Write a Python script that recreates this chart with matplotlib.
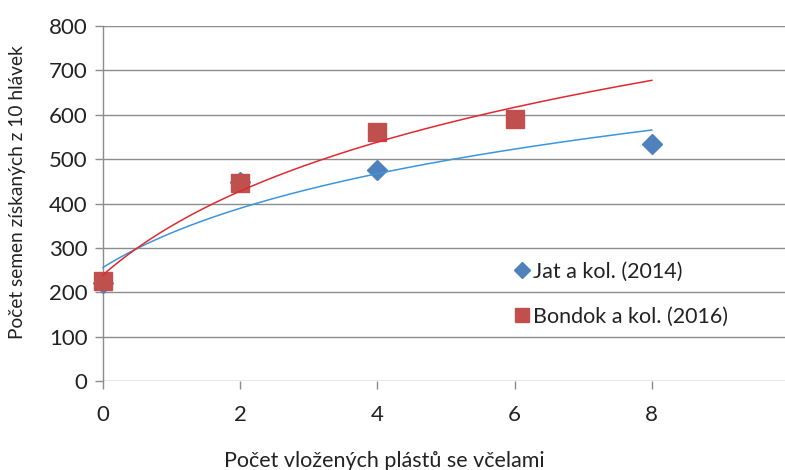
import numpy as np
import matplotlib
matplotlib.use("Agg")
import matplotlib.pyplot as plt
from matplotlib.lines import Line2D

plt.rcParams['font.family'] = ['Lato', 'DejaVu Sans']

# Data
jat_x = [0, 2, 4, 8]
jat_y = [220, 448, 475, 535]
bondok_x = [0, 2, 4, 6]
bondok_y = [225, 447, 560, 590]
x_ticks = [0, 2, 4, 6, 8]
y_ticks = [0, 100, 200, 300, 400, 500, 600, 700, 800]

jat_label = "Jat a kol. (2014)"
bondok_label = "Bondok a kol. (2016)"
x_label = "Počet vložených plástů se včelami"
y_label = "Počet semen získaných z 10 hlávek"

fig = plt.figure(figsize=(7.85, 4.7), dpi=100)
ax = fig.add_axes([103/785, 1-381/470, 686/785, (381-26)/470])

grid_c = '#8c8c8c'
txt_c = '#222222'
blue = '#4F81BD'
red = '#C0504D'
for yv in y_ticks:
    ax.axhline(yv, color=grid_c, lw=1.0, zorder=0)

# logarithmic trendlines (Excel-style, on category index x/2+1)
def log_trend(xs, ys):
    k = np.array(xs) / 2 + 1
    a, b = np.polyfit(np.log(k), np.array(ys), 1)
    xt = np.linspace(0, 8, 200)
    return xt, a * np.log(xt / 2 + 1) + b

ax.plot(jat_x, jat_y, linestyle='none', marker='D', markersize=10.5,
        color=blue, zorder=3, clip_on=False)
ax.plot(bondok_x, bondok_y, linestyle='none', marker='s', markersize=13,
        color=red, zorder=4, clip_on=False)

xt, yt = log_trend(jat_x, jat_y)
ax.plot(xt, yt, color='#3D95DA', lw=1.1, zorder=5, clip_on=False)
xt, yt = log_trend(bondok_x, bondok_y)
ax.plot(xt, yt, color='#DD2A2F', lw=1.1, zorder=6, clip_on=False)

ax.set_xlim(0, 10)
ax.set_ylim(0, 800)
ax.set_xticks(x_ticks)
ax.set_yticks(y_ticks)
for s in ['top', 'right', 'bottom']:
    ax.spines[s].set_visible(False)
ax.spines['left'].set_color(grid_c)
ax.spines['left'].set_linewidth(1.0)
ax.tick_params(axis='both', colors=grid_c, labelcolor=txt_c,
               labelsize=16, length=6, width=1.0)
ax.tick_params(axis='x', pad=11)
ax.tick_params(axis='y', pad=5)

fig.text(384/785, 1-461/470, x_label, ha='center', va='center',
         fontsize=15.5, color=txt_c)
fig.text(18/785, 1-192/470, y_label, ha='center', va='center',
         rotation=90, fontsize=13.8, color=txt_c)

handles = [Line2D([], [], linestyle='none', marker='D', markersize=8, color=blue),
           Line2D([], [], linestyle='none', marker='s', markersize=10, color=red)]
leg = ax.legend(handles, [jat_label, bondok_label], loc='center left',
                bbox_to_anchor=(0.585, 0.245), frameon=False,
                fontsize=15.5, handletextpad=0.15, labelspacing=1.15,
                handlelength=0.8, borderaxespad=0, labelcolor=txt_c)

fig.savefig('out.png', dpi=100)
